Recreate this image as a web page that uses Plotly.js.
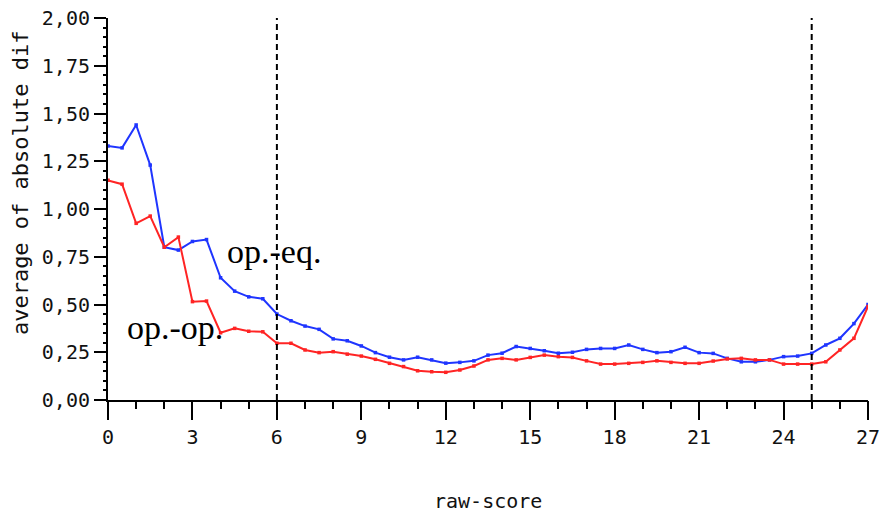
<!DOCTYPE html>
<html>
<head>
<meta charset="utf-8">
<script src="https://cdn.plot.ly/plotly-3.0.1.min.js"></script>
<style>html,body{margin:0;padding:0;background:#fff;}#chart{width:880px;height:515px;}</style>
</head>
<body>
<div id="chart"></div>
<script>
// raw-score positions (0.5 steps)
const rawScore = [0,0.5,1,1.5,2,2.5,3,3.5,4,4.5,5,5.5,6,6.5,7,7.5,8,8.5,9,9.5,10,10.5,11,11.5,12,12.5,13,13.5,14,14.5,15,15.5,16,16.5,17,17.5,18,18.5,19,19.5,20,20.5,21,21.5,22,22.5,23,23.5,24,24.5,25,25.5,26,26.5,27];
// op.-eq. (blue)
const opEq = [1.33,1.32,1.44,1.23,0.80,0.785,0.83,0.84,0.64,0.57,0.54,0.53,0.45,0.415,0.387,0.37,0.32,0.31,0.283,0.248,0.224,0.21,0.224,0.21,0.193,0.197,0.205,0.235,0.245,0.28,0.27,0.258,0.245,0.25,0.265,0.27,0.27,0.288,0.265,0.248,0.253,0.276,0.248,0.244,0.218,0.20,0.20,0.21,0.227,0.23,0.244,0.288,0.323,0.40,0.50];
// op.-op. (red)
const opOp = [1.15,1.13,0.925,0.963,0.80,0.853,0.515,0.518,0.352,0.375,0.36,0.357,0.297,0.297,0.262,0.248,0.253,0.24,0.23,0.213,0.192,0.175,0.153,0.148,0.145,0.157,0.178,0.21,0.218,0.21,0.223,0.235,0.227,0.223,0.205,0.188,0.188,0.192,0.197,0.205,0.197,0.192,0.192,0.204,0.215,0.218,0.21,0.21,0.188,0.188,0.188,0.20,0.262,0.323,0.49];
const yTickVals = [0,0.25,0.5,0.75,1,1.25,1.5,1.75,2];
const yTickText = ["0,00","0,25","0,50","0,75","1,00","1,25","1,50","1,75","2,00"];
const yMinorTicks = [0.05,0.1,0.15,0.2,0.3,0.35,0.4,0.45,0.55,0.6,0.65,0.7,0.8,0.85,0.9,0.95,1.05,1.1,1.15,1.2,1.3,1.35,1.4,1.45,1.55,1.6,1.65,1.7,1.8,1.85,1.9,1.95];
const cutoffs = [6,25];
const seriesLabels = ["op.-eq.","op.-op."];

const mono = "DejaVu Sans Mono, monospace";
const traces = [
  {x: rawScore, y: opOp, xaxis: "x2", yaxis: "y", mode: "lines", opacity: 0, hoverinfo: "skip",
   line: {width: 0}, showlegend: false},
  {x: rawScore, y: opEq, name: seriesLabels[0], mode: "lines+markers", hoverinfo: "skip",
   line: {color: "#1f35ff", width: 2}, marker: {color: "#1f35ff", size: 3.5, symbol: "square"}},
  {x: rawScore, y: opOp, name: seriesLabels[1], mode: "lines+markers", hoverinfo: "skip",
   line: {color: "#ff2424", width: 2}, marker: {color: "#ff2424", size: 3.5, symbol: "square"}}
];
const layout = {
  width: 880, height: 515,
  margin: {l: 108, r: 12, t: 18, b: 115},
  paper_bgcolor: "#fff", plot_bgcolor: "#fff",
  showlegend: false,
  xaxis: {
    range: [0, 27], showgrid: false, zeroline: false,
    showline: true, linecolor: "#000", linewidth: 2,
    tickmode: "linear", tick0: 0, dtick: 3, ticks: "outside", ticklen: 18, tickwidth: 2, tickcolor: "#000",
    ticklabeloverflow: "allow",
    tickfont: {family: mono, size: 20, color: "#111"}
  },
  xaxis2: {
    overlaying: "x", anchor: "y", side: "bottom", range: [0, 27],
    showgrid: false, zeroline: false, showline: false, showticklabels: false,
    tickmode: "linear", tick0: 0, dtick: 1, ticks: "outside", ticklen: 8, tickwidth: 1.5, tickcolor: "#000"
  },
  yaxis: {
    range: [0, 2], showgrid: false, zeroline: false,
    showline: true, linecolor: "#000", linewidth: 2,
    tickmode: "array", tickvals: yTickVals, ticktext: yTickText,
    ticks: "outside", ticklen: 12, tickwidth: 2, tickcolor: "#000",
    minor: {ticks: "outside", tickmode: "array", tickvals: yMinorTicks, ticklen: 3, tickwidth: 1.5, tickcolor: "#000"},
    tickfont: {family: mono, size: 20, color: "#111"}
  },
  shapes: cutoffs.map(c => ({type: "line", xref: "x", yref: "paper", x0: c, x1: c, y0: 0, y1: 1,
    line: {color: "#000", width: 2, dash: "6px,4px"}})),
  annotations: [
    {xref: "paper", yref: "paper", x: -0.116, y: 0.57, text: "average of absolute dif", textangle: -90,
     showarrow: false, font: {family: mono, size: 22, color: "#111"}, xanchor: "center", yanchor: "middle"},
    {xref: "paper", yref: "paper", x: 0.5, y: -0.265, text: "raw-score",
     showarrow: false, font: {family: mono, size: 20, color: "#111"}, xanchor: "center", yanchor: "middle"},
    {xref: "x", yref: "y", x: 4.15, y: 0.78, text: seriesLabels[0], showarrow: false,
     font: {family: "Liberation Serif, Times New Roman, serif", size: 34, color: "#000"}, xanchor: "left", yanchor: "middle"},
    {xref: "x", yref: "y", x: 0.6, y: 0.38, text: seriesLabels[1], showarrow: false,
     font: {family: "Liberation Serif, Times New Roman, serif", size: 34, color: "#000"}, xanchor: "left", yanchor: "middle"}
  ]
};
Plotly.newPlot("chart", traces, layout, {displayModeBar: false});
</script>
</body>
</html>
